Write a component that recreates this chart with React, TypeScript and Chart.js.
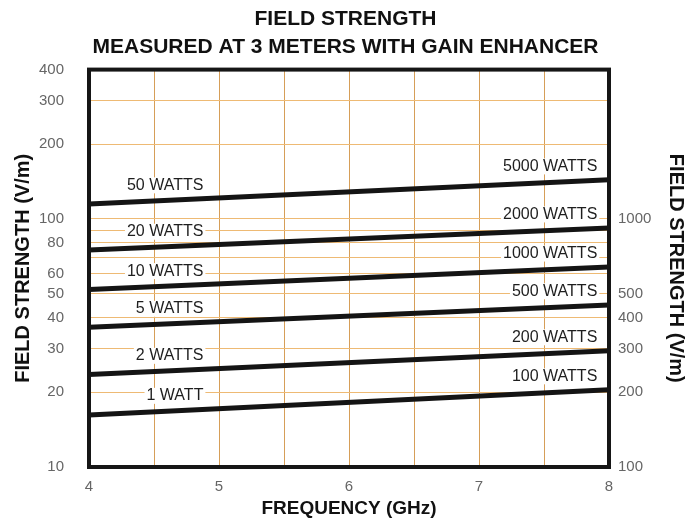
import React, { useEffect, useRef } from "react";
import { Chart, registerables } from "chart.js";

Chart.register(...registerables);

// ---- data ----
const frequencies = [4, 8]; // GHz
const fs50W = [115, 144];
const fs20W = [75, 92];
const fs10W = [52, 64];
const fs5W = [36.6, 45];
const fs2W = [23.6, 29.4];
const fs1W = [16.2, 20.5];
const lowPowerLabels = ["50 WATTS", "20 WATTS", "10 WATTS", "5 WATTS", "2 WATTS", "1 WATT"];
const highPowerLabels = ["5000 WATTS", "2000 WATTS", "1000 WATTS", "500 WATTS", "200 WATTS", "100 WATTS"];
const leftTickLabels = [10, 20, 30, 40, 50, 60, 80, 100, 200, 300, 400];
const leftGridValues = [10, 20, 30, 40, 50, 60, 70, 80, 90, 100, 200, 300, 400];
const rightTickLabels = [100, 200, 300, 400, 500, 1000];
const xTickLabels = [4, 5, 6, 7, 8];

const FONT = "'Liberation Sans', Arial, Helvetica, sans-serif";
const GRID_X = "rgb(214,158,88)";
const GRID_Y = "rgb(238,186,116)";

const labelPlugin = {
  id: "lineLabels",
  beforeDatasetsDraw(chart: any) {
    const { ctx, scales } = chart;
    const xs = scales.x;
    ctx.save();
    ctx.font = `16px ${FONT}`;
    ctx.textBaseline = "middle";
    const drawLabel = (text: string, pts: any[], xRightVal: number, offset: number) => {
      const w = ctx.measureText(text).width;
      const xr = xs.getPixelForValue(xRightVal);
      const cx = xr - w / 2;
      const p0 = pts[0], p1 = pts[pts.length - 1];
      const t = (cx - p0.x) / (p1.x - p0.x);
      const ly = p0.y + (p1.y - p0.y) * t;
      const y = ly - offset;
      ctx.fillStyle = "#ffffff";
      ctx.fillRect(xr - w - 2, y - 8, w + 4, 16);
      ctx.fillStyle = "#1e1e1e";
      ctx.textAlign = "right";
      ctx.fillText(text, xr, y);
    };
    chart.data.datasets.forEach((ds: any, i: number) => {
      const meta = chart.getDatasetMeta(i);
      const pts = meta.data.map((e: any) => ({ x: e.x, y: e.y }));
      drawLabel(lowPowerLabels[i], pts, 4.88, 15);
      drawLabel(highPowerLabels[i], pts, 7.91, 16);
    });
    ctx.restore();
  },
  afterDatasetsDraw(chart: any) {
    const { ctx, chartArea } = chart;
    ctx.save();
    ctx.strokeStyle = "#161616";
    ctx.lineWidth = 4;
    ctx.strokeRect(chartArea.left, chartArea.top, chartArea.right - chartArea.left, chartArea.bottom - chartArea.top);
    ctx.restore();
  },
};

export default function App() {
  const ref = useRef<HTMLCanvasElement>(null);
  useEffect(() => {
    if (!ref.current) return;
    const series = [fs50W, fs20W, fs10W, fs5W, fs2W, fs1W];
    const chart = new Chart(ref.current, {
      type: "line",
      data: {
        datasets: series.map((s, i) => ({
          label: lowPowerLabels[i],
          data: frequencies.map((f, j) => ({ x: f, y: s[j] })),
          borderColor: "#141414",
          borderWidth: 5,
          pointRadius: 0,
          fill: false,
          tension: 0,
        })),
      },
      options: {
        responsive: false,
        animation: false,
        layout: { padding: 0 },
        plugins: {
          legend: { display: false },
          tooltip: { enabled: false },
          title: {
            display: true,
            text: ["FIELD STRENGTH", "MEASURED AT 3 METERS WITH GAIN ENHANCER"],
            color: "#111",
            font: { family: FONT, size: 21, weight: "bold", lineHeight: 1.3 },
            padding: { top: 6, bottom: 9 },
          },
        },
        scales: {
          x: {
            type: "linear",
            min: 4,
            max: 8,
            afterBuildTicks: (s: any) => {
              const t = [];
              for (let v = 4; v <= 8.0001; v += 0.5) t.push({ value: v });
              s.ticks = t;
            },
            ticks: {
              color: "#666",
              font: { family: FONT, size: 15 },
              padding: 11,
              maxRotation: 0,
              autoSkip: false,
              callback: (v: any) => (xTickLabels.includes(Number(v)) ? String(v) : ""),
            },
            grid: { color: GRID_X, lineWidth: 1, drawTicks: false },
            border: { display: false },
            title: {
              display: true,
              text: "FREQUENCY (GHz)",
              color: "#111",
              font: { family: FONT, size: 19, weight: "bold" },
              padding: { top: 0, bottom: 1 },
            },
            afterFit: (s: any) => {
              s.height = 54;
            },
          },
          y: {
            type: "logarithmic",
            position: "left",
            min: 10,
            max: 400,
            afterBuildTicks: (s: any) => {
              s.ticks = leftGridValues.map((v) => ({ value: v }));
            },
            ticks: {
              color: "#666",
              font: { family: FONT, size: 15 },
              padding: 25,
              autoSkip: false,
              callback: (v: any) => (leftTickLabels.includes(Number(v)) ? String(v) : ""),
            },
            grid: { color: GRID_Y, lineWidth: 1, drawTicks: false },
            border: { display: false },
            title: {
              display: true,
              text: "FIELD STRENGTH (V/m)",
              color: "#111",
              font: { family: FONT, size: 20, weight: "bold" },
              padding: { top: 11, bottom: 0 },
            },
            afterFit: (s: any) => {
              s.width = 89;
            },
          },
          y2: {
            type: "logarithmic",
            position: "right",
            min: 100,
            max: 4000,
            afterBuildTicks: (s: any) => {
              s.ticks = rightTickLabels.map((v) => ({ value: v }));
            },
            ticks: {
              color: "#666",
              font: { family: FONT, size: 15 },
              padding: 9,
              autoSkip: false,
              callback: (v: any) => String(v),
            },
            grid: { display: false, drawTicks: false },
            border: { display: false },
            title: {
              display: true,
              text: "FIELD STRENGTH (V/m)",
              color: "#111",
              font: { family: FONT, size: 20, weight: "bold" },
              padding: { top: 3, bottom: 0 },
            },
            afterFit: (s: any) => {
              s.width = 82;
            },
          },
        },
      },
      plugins: [labelPlugin],
    } as any);
    return () => chart.destroy();
  }, []);
  return (
    <div style={{ position: "fixed", left: 0, top: 0, width: 691, height: 521, background: "#fff" }}>
      <canvas ref={ref} width={691} height={521} style={{ display: "block" }} />
    </div>
  );
}
